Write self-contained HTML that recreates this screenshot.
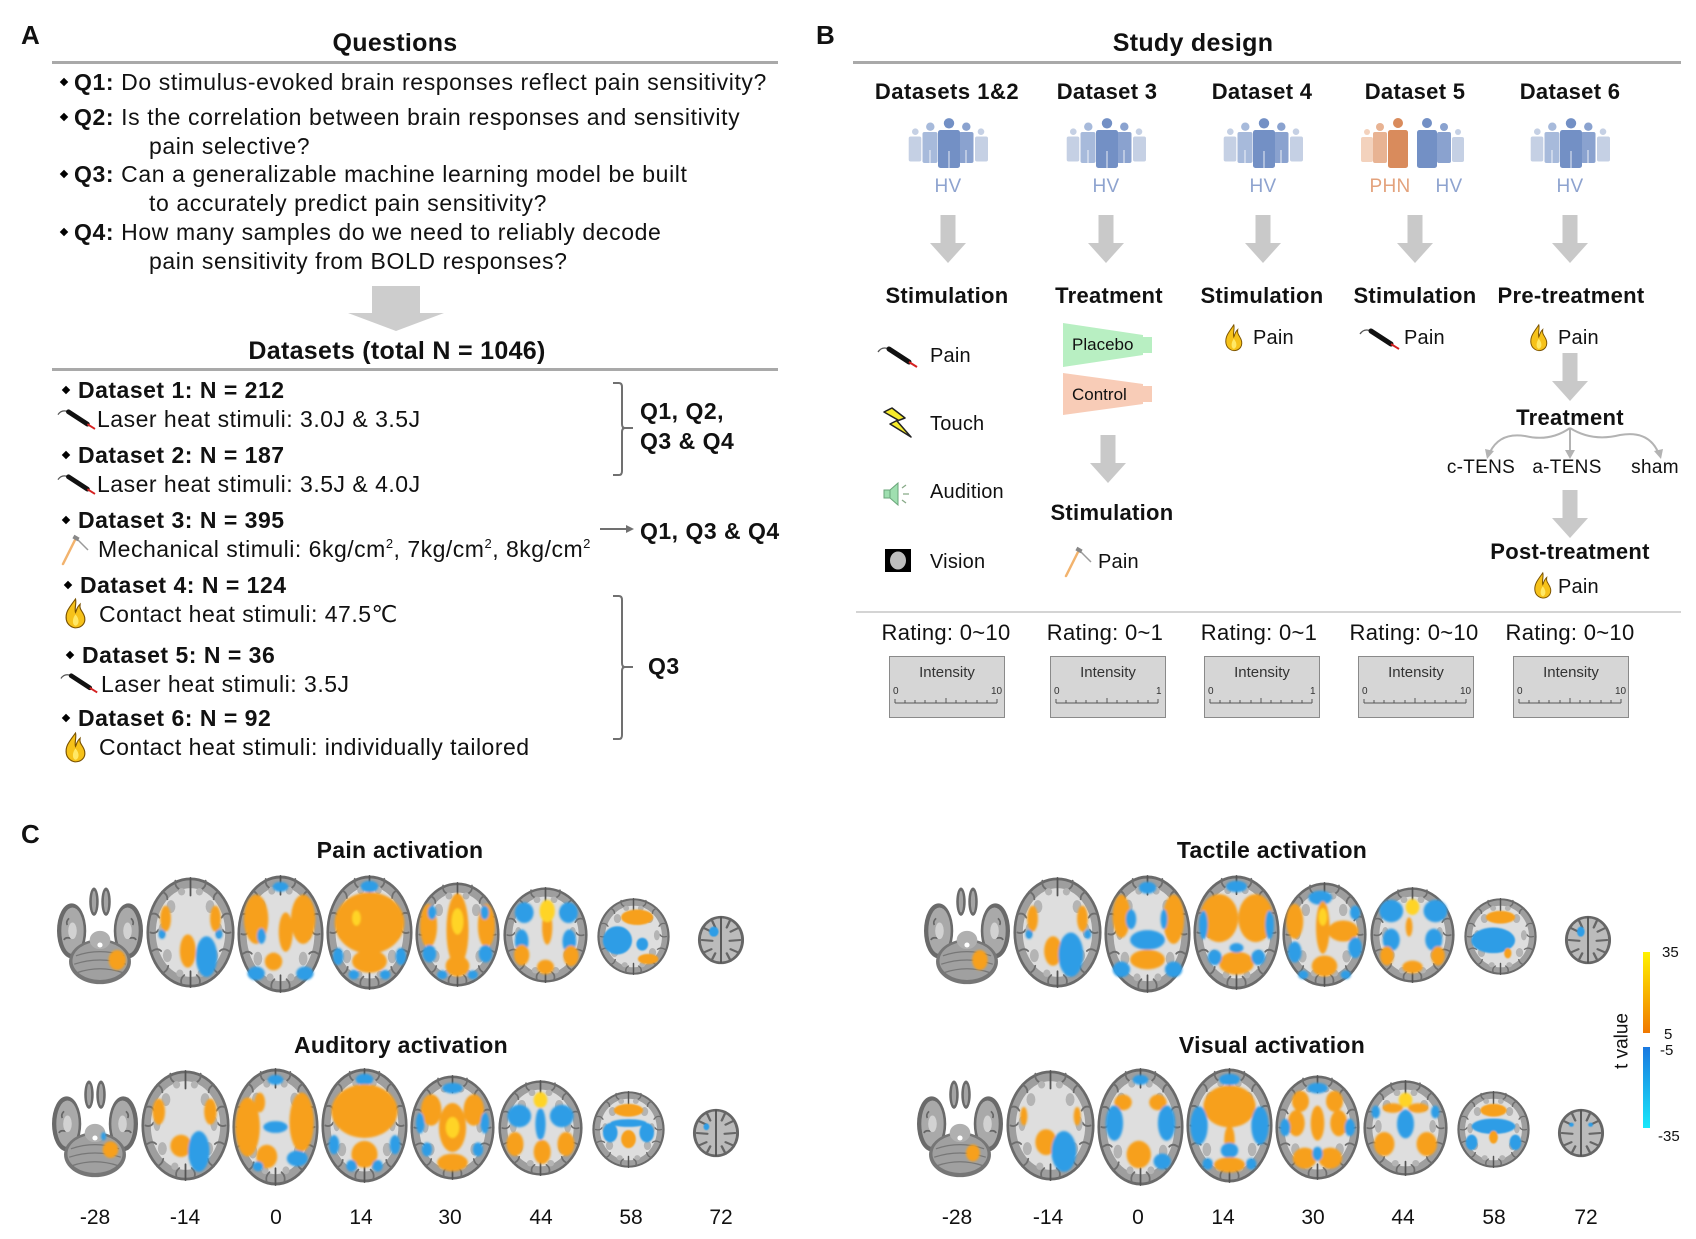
<!DOCTYPE html>
<html><head><meta charset="utf-8">
<style>
html,body{margin:0;padding:0;background:#fff;}
#pg{position:relative;width:1696px;height:1239px;overflow:hidden;background:#fff;}
.t{position:absolute;white-space:nowrap;line-height:1;font-family:"Liberation Sans","DejaVu Sans","Noto Sans CJK SC",sans-serif;color:#111;}
.b{font-weight:bold;}
.c{transform:translateX(-50%);}
.s23{font-size:23px;letter-spacing:0.5px;}
.q23{font-size:23px;letter-spacing:0.6px;}
.s25{font-size:25px;letter-spacing:0.3px;font-weight:bold;}
.s22{font-size:22px;letter-spacing:0.3px;}
.s20{font-size:20px;letter-spacing:0.2px;}
.s19{font-size:19px;letter-spacing:0.3px;}
.s21{font-size:21px;}
.d{position:absolute;width:6px;height:6px;background:#000;transform:rotate(45deg);}
sup{font-size:13px;vertical-align:9px;line-height:0;}
.box{position:absolute;top:656px;width:114px;height:60px;background:#d6d6d6;border:1px solid #8a8a8a;}
.o{fill:#f7a01a;} .y{fill:#ffd425;} .u{fill:#2f9de6;}
</style></head><body><div id="pg">
<div class="box" style="left:889px"></div>
<div class="box" style="left:1050px"></div>
<div class="box" style="left:1204px"></div>
<div class="box" style="left:1358px"></div>
<div class="box" style="left:1513px"></div>
<svg width="1696" height="1239" style="position:absolute;left:0;top:0">
<defs>
<filter id="bl" x="-10%" y="-10%" width="120%" height="120%"><feGaussianBlur stdDeviation="1.2"/></filter>
<linearGradient id="gor" x1="0" y1="0" x2="0" y2="1"><stop offset="0" stop-color="#fff200"/><stop offset="1" stop-color="#f07800"/></linearGradient>
<linearGradient id="gbl" x1="0" y1="0" x2="0" y2="1"><stop offset="0" stop-color="#1a78e0"/><stop offset="1" stop-color="#18e8fa"/></linearGradient>
<g id="ax">
<ellipse cx="50" cy="60" rx="49.5" ry="59.5" fill="#6a6a6a"/>
<ellipse cx="50" cy="60" rx="46.5" ry="56.5" fill="#9e9e9e"/>
<ellipse cx="50" cy="60" rx="39" ry="48" fill="#dedede"/>
<g stroke="#6e6e6e" stroke-width="2" fill="none" stroke-linecap="round">
<path d="M6 40 Q12 38 15 44 M5 60 Q11 62 14 57 M7 80 Q13 76 17 80 M94 40 Q88 38 85 44 M95 60 Q89 62 86 57 M93 80 Q87 76 83 80 M18 16 Q24 18 24 24 M82 16 Q76 18 76 24 M33 4 Q32 10 37 13 M67 4 Q68 10 63 13 M18 104 Q24 102 25 96 M82 104 Q76 102 75 96 M40 116 Q38 110 43 106 M60 116 Q62 110 57 106"/>
<path d="M50 1 V20 M50 102 V119" stroke="#555"/>
</g>
<g fill="#b4b4b4"><ellipse cx="28" cy="32" rx="5" ry="7"/><ellipse cx="72" cy="32" rx="5" ry="7"/><ellipse cx="24" cy="85" rx="5" ry="7"/><ellipse cx="76" cy="85" rx="5" ry="7"/><ellipse cx="18" cy="58" rx="4" ry="8"/><ellipse cx="82" cy="58" rx="4" ry="8"/><ellipse cx="40" cy="16" rx="4" ry="4"/><ellipse cx="60" cy="16" rx="4" ry="4"/><ellipse cx="38" cy="104" rx="4" ry="4"/><ellipse cx="62" cy="104" rx="4" ry="4"/></g>
</g>
<g id="b28">
<ellipse cx="43" cy="20" rx="5.5" ry="17" fill="#6a6a6a"/><ellipse cx="57" cy="20" rx="5.5" ry="17" fill="#6a6a6a"/>
<ellipse cx="43" cy="20" rx="2.5" ry="13" fill="#a4a4a4"/><ellipse cx="57" cy="20" rx="2.5" ry="13" fill="#a4a4a4"/>
<ellipse cx="17" cy="55" rx="17" ry="33" fill="#6a6a6a"/><ellipse cx="18" cy="55" rx="13" ry="28" fill="#a9a9a9"/>
<ellipse cx="83" cy="55" rx="17" ry="33" fill="#6a6a6a"/><ellipse cx="82" cy="55" rx="13" ry="28" fill="#a9a9a9"/>
<ellipse cx="50" cy="92" rx="36" ry="27" fill="#767676"/><ellipse cx="50" cy="91" rx="32" ry="23" fill="#a0a0a0"/>
<path d="M22 85 Q50 75 78 85 M20 95 Q50 85 80 95 M24 105 Q50 96 76 105" stroke="#777" stroke-width="1.5" fill="none"/>
<ellipse cx="50" cy="66" rx="12" ry="11" fill="#b0b0b0"/><circle cx="50" cy="72" r="3" fill="#fff"/>
<path d="M14 40 Q10 44 12 48 M16 64 Q10 62 8 66 M86 40 Q90 44 88 48 M84 64 Q90 62 92 66" stroke="#666" stroke-width="2" fill="none"/>
<ellipse cx="18" cy="55" rx="5" ry="10" fill="#d2d2d2"/><ellipse cx="82" cy="55" rx="5" ry="10" fill="#d2d2d2"/>
</g>
<g id="b72">
<ellipse cx="50" cy="60" rx="48" ry="58" fill="#666"/><ellipse cx="50" cy="60" rx="42" ry="52" fill="#bbb"/>
<path d="M50 4 V116" stroke="#555" stroke-width="4"/>
<path d="M12 30 L30 40 M10 60 L32 62 M14 90 L30 82 M88 30 L70 40 M90 60 L68 62 M86 90 L70 82 M30 10 L38 30 M70 10 L62 30 M30 110 L38 92 M70 110 L62 92" stroke="#666" stroke-width="5" stroke-linecap="round"/>
</g>
<g id="arr"><rect x="-7.5" y="0" width="15" height="28" fill="#c9c9c9"/><polygon points="-18,28 18,28 0,48" fill="#c9c9c9"/></g>
<g id="hv">
<circle cx="7.3" cy="13.7" r="3.3" fill="#c5d0e4"/><rect x="0.7" y="18.5" width="12.6" height="25" rx="2" fill="#c5d0e4"/>
<circle cx="73" cy="13.7" r="3.3" fill="#c5d0e4"/><rect x="67" y="18.5" width="13" height="25" rx="2" fill="#c5d0e4"/>
<circle cx="22.3" cy="8.7" r="4.2" fill="#a7badb"/><rect x="14.5" y="14" width="15" height="31" rx="2" fill="#a7badb"/>
<circle cx="58.3" cy="8.7" r="4.2" fill="#8aa2cf"/><rect x="51" y="14" width="14.5" height="31" rx="2" fill="#8aa2cf"/>
<circle cx="41" cy="5.3" r="5.2" fill="#7390c5"/><rect x="30" y="12" width="22" height="38" rx="2.5" fill="#7390c5"/>
<path d="M41 33 V50 M22 32 V45 M58 32 V45" stroke="#fff" stroke-width="1.2" opacity="0.7"/>
</g>
<g id="laser"><path d="M1 7 Q5 1 12 4" stroke="#555" stroke-width="1.3" fill="none"/><path d="M12 4 L32 17" stroke="#111" stroke-width="5" stroke-linecap="round"/><path d="M32 17 L40 22" stroke="#d42020" stroke-width="2"/></g>
<g id="flame"><path d="M10 1 C4 10 1 14 2 21 C3 27 8 29 10 29 C14 29 19 26 18 19 C17 13 13 12 14 6 C11 9 11 12 10 14 C9 10 11 5 10 1 Z" fill="#f6c21a" stroke="#7a5200" stroke-width="1"/><path d="M10 16 C7 20 7 26 10 27 C13 26 14 21 10 16 Z" fill="#ffe866"/></g>
<g id="ham"><path d="M16 2 L3 28" stroke="#f2b36e" stroke-width="2.5" stroke-linecap="round"/><path d="M16 2 L28 14" stroke="#9a9a9a" stroke-width="1.5"/><rect x="13" y="0" width="6" height="4" fill="#888" transform="rotate(30 16 2)"/></g>
</defs>

<!-- panel A lines and arrows -->
<rect x="52" y="61" width="726" height="3" fill="#a9a9a9"/>
<rect x="52" y="368" width="726" height="3" fill="#a9a9a9"/>
<path d="M372 286 H420 V313 H444 L396 331 L348 313 H372 Z" fill="#cdcdcd"/>
<g stroke="#707070" stroke-width="2" fill="none">
<path d="M613 383 H619 Q622 383 622 387 V424 Q622 428 625 428 H633 M625 428 Q622 428 622 432 V471 Q622 475 619 475 H613"/>
<path d="M613 596 H619 Q622 596 622 600 V663 Q622 667 625 667 H633 M625 667 Q622 667 622 671 V735 Q622 739 619 739 H613"/>
<path d="M600 529 H627"/>
</g>
<polygon points="626,525 634,529 626,533" fill="#707070"/>
<use href="#laser" transform="translate(57,408) scale(0.95)"/>
<use href="#laser" transform="translate(57,473) scale(0.95)"/>
<use href="#laser" transform="translate(60,672) scale(0.93)"/>
<use href="#ham" transform="translate(60,536) scale(1)"/>
<use href="#flame" transform="translate(64,598) scale(1.15,1.03)"/>
<use href="#flame" transform="translate(64,732) scale(1.15,1.03)"/>

<!-- panel B -->
<rect x="853" y="61" width="828" height="3" fill="#a9a9a9"/>
<rect x="856" y="611" width="825" height="2" fill="#d4d4d4"/>
<use href="#hv" x="908" y="118"/>
<use href="#hv" x="1066" y="118"/>
<use href="#hv" x="1223" y="118"/>
<use href="#hv" x="1530" y="118"/>
<g transform="translate(1361,118)">
<circle cx="6" cy="14" r="3" fill="#f3d2bd"/><rect x="0" y="19" width="12" height="25" rx="2" fill="#f3d2bd"/>
<circle cx="19" cy="9" r="4" fill="#e8b393"/><rect x="12" y="14" width="14" height="31" rx="2" fill="#e8b393"/>
<circle cx="37" cy="5" r="5" fill="#d98b5c"/><rect x="27" y="12" width="20" height="38" rx="2.5" fill="#d98b5c"/>
<circle cx="97" cy="14" r="3" fill="#c5d0e4"/><rect x="91" y="19" width="12" height="25" rx="2" fill="#c5d0e4"/>
<circle cx="83" cy="9" r="4" fill="#8aa2cf"/><rect x="76" y="14" width="14" height="31" rx="2" fill="#8aa2cf"/>
<circle cx="66" cy="5" r="5" fill="#7390c5"/><rect x="56" y="12" width="20" height="38" rx="2.5" fill="#7390c5"/>
</g>
<use href="#arr" x="948" y="215"/>
<use href="#arr" x="1106" y="215"/>
<use href="#arr" x="1263" y="215"/>
<use href="#arr" x="1415" y="215"/>
<use href="#arr" x="1570" y="215"/>
<use href="#arr" x="1108" y="435"/>
<use href="#arr" x="1570" y="353"/>
<use href="#arr" x="1570" y="490"/>
<use href="#laser" transform="translate(877,345)"/>
<polygon points="892,408 905,418 897,421 911,437 890,424 898,420 884,412" fill="#f7ec2a" stroke="#222" stroke-width="1.5" stroke-linejoin="round"/>
<g transform="translate(883,482)"><rect x="1" y="8" width="6" height="8" fill="#9fdfb0" stroke="#6aa67a"/><polygon points="7,8 15,1 15,23 7,16" fill="#9fdfb0" stroke="#6aa67a"/><path d="M19 6 L23 3 M20 12 H26 M19 18 L23 21" stroke="#8a8" stroke-width="1.3"/></g>
<rect x="885" y="549" width="26" height="23" fill="#000"/><ellipse cx="898" cy="560.5" rx="8" ry="9" fill="#bdbdbd"/>
<polygon points="1063,323 1143,335 1143,337 1152,337 1152,353 1143,353 1143,355 1063,367" fill="#b8efc2"/>
<polygon points="1063,373 1143,384 1143,386 1152,386 1152,402 1143,402 1143,404 1063,415" fill="#f8ccb7"/>
<use href="#ham" transform="translate(1063,548)"/>
<use href="#flame" transform="translate(1224,324) scale(0.98,0.92)"/>
<use href="#laser" transform="translate(1359,327)"/>
<use href="#flame" transform="translate(1529,324) scale(0.98,0.92)"/>
<use href="#flame" transform="translate(1533,572) scale(0.98,0.9)"/>
<g stroke="#b3b3b3" stroke-width="2" fill="none">
<path d="M1570 428 Q1550 442 1525 436 Q1500 432 1490 452"/>
<path d="M1570 428 Q1592 442 1620 435 Q1648 430 1658 452"/>
<path d="M1570 428 V452"/>
</g>
<g fill="#b3b3b3"><polygon points="1485,449 1494,451 1487,459"/><polygon points="1654,451 1663,449 1661,459"/><polygon points="1565,450 1575,450 1570,459"/></g>
<!-- intensity scales -->
<g stroke="#555" stroke-width="1" fill="none">
<path d="M895 703 H997 M895 699 V703 M905 700 V703 M915 700 V703 M925 700 V703 M936 700 V703 M946 698 V703 M956 700 V703 M966 700 V703 M977 700 V703 M987 700 V703 M997 699 V703"/>
<path d="M1056 703 H1158 M1056 699 V703 M1066 700 V703 M1076 700 V703 M1086 700 V703 M1097 700 V703 M1107 698 V703 M1117 700 V703 M1127 700 V703 M1138 700 V703 M1148 700 V703 M1158 699 V703"/>
<path d="M1210 703 H1312 M1210 699 V703 M1220 700 V703 M1230 700 V703 M1240 700 V703 M1251 700 V703 M1261 698 V703 M1271 700 V703 M1281 700 V703 M1292 700 V703 M1302 700 V703 M1312 699 V703"/>
<path d="M1364 703 H1466 M1364 699 V703 M1374 700 V703 M1384 700 V703 M1394 700 V703 M1405 700 V703 M1415 698 V703 M1425 700 V703 M1435 700 V703 M1446 700 V703 M1456 700 V703 M1466 699 V703"/>
<path d="M1519 703 H1621 M1519 699 V703 M1529 700 V703 M1539 700 V703 M1549 700 V703 M1560 700 V703 M1570 698 V703 M1580 700 V703 M1590 700 V703 M1601 700 V703 M1611 700 V703 M1621 699 V703"/>
</g>

<!-- panel C brains -->
<!-- Pain row -->
<svg x="57" y="885" width="86" height="100" viewBox="0 0 100 120" preserveAspectRatio="none"><use href="#b28"/><g filter="url(#bl)"><ellipse class="o" cx="70" cy="90" rx="10" ry="12"/></g></svg>
<svg x="146" y="877" width="89" height="111" viewBox="0 0 100 120" preserveAspectRatio="none"><use href="#ax"/><g filter="url(#bl)"><ellipse class="o" cx="22" cy="45" rx="6" ry="14"/><ellipse class="o" cx="78" cy="45" rx="6" ry="14"/><ellipse class="u" cx="18" cy="62" rx="4" ry="5"/><ellipse class="u" cx="82" cy="62" rx="4" ry="5"/><ellipse class="o" cx="47" cy="80" rx="9" ry="18"/><ellipse class="u" cx="68" cy="86" rx="12" ry="22"/></g></svg>
<svg x="237" y="875" width="87" height="118" viewBox="0 0 100 120" preserveAspectRatio="none"><use href="#ax"/><g filter="url(#bl)"><ellipse class="u" cx="50" cy="12" rx="9" ry="5"/><ellipse class="o" cx="22" cy="45" rx="14" ry="25"/><ellipse class="o" cx="76" cy="45" rx="14" ry="25"/><ellipse class="u" cx="28" cy="62" rx="5" ry="8"/><ellipse class="o" cx="56" cy="58" rx="8" ry="20"/><ellipse class="o" cx="42" cy="88" rx="10" ry="9"/><ellipse class="u" cx="22" cy="100" rx="10" ry="7"/><ellipse class="u" cx="78" cy="100" rx="10" ry="7"/></g></svg>
<svg x="326" y="875" width="87" height="115" viewBox="0 0 100 120" preserveAspectRatio="none"><use href="#ax"/><g filter="url(#bl)"><ellipse class="u" cx="50" cy="12" rx="10" ry="6"/><ellipse class="o" cx="50" cy="50" rx="40" ry="32"/><ellipse class="y" cx="35" cy="45" rx="5" ry="8"/><ellipse class="o" cx="50" cy="90" rx="20" ry="12"/><ellipse class="u" cx="14" cy="85" rx="6" ry="9"/><ellipse class="u" cx="86" cy="85" rx="6" ry="9"/><ellipse class="u" cx="32" cy="104" rx="6" ry="5"/><ellipse class="u" cx="68" cy="104" rx="6" ry="5"/></g></svg>
<svg x="415" y="882" width="85" height="105" viewBox="0 0 100 120" preserveAspectRatio="none"><use href="#ax"/><g filter="url(#bl)"><ellipse class="o" cx="50" cy="55" rx="13" ry="42"/><ellipse class="y" cx="50" cy="45" rx="7" ry="15"/><ellipse class="o" cx="16" cy="50" rx="10" ry="25"/><ellipse class="o" cx="84" cy="50" rx="10" ry="25"/><ellipse class="u" cx="20" cy="35" rx="5" ry="8"/><ellipse class="u" cx="82" cy="35" rx="5" ry="8"/><ellipse class="u" cx="17" cy="82" rx="8" ry="10"/><ellipse class="u" cx="83" cy="82" rx="8" ry="10"/><ellipse class="o" cx="50" cy="96" rx="14" ry="12"/><ellipse class="u" cx="32" cy="106" rx="6" ry="5"/><ellipse class="u" cx="68" cy="106" rx="6" ry="5"/></g></svg>
<svg x="503" y="887" width="85" height="96" viewBox="0 0 100 120" preserveAspectRatio="none"><use href="#ax"/><g filter="url(#bl)"><ellipse class="u" cx="25" cy="32" rx="11" ry="13"/><ellipse class="u" cx="77" cy="32" rx="11" ry="13"/><ellipse class="u" cx="22" cy="68" rx="8" ry="15"/><ellipse class="u" cx="78" cy="68" rx="8" ry="15"/><ellipse class="o" cx="52" cy="50" rx="6" ry="22"/><ellipse class="y" cx="52" cy="30" rx="9" ry="14"/><ellipse class="o" cx="22" cy="85" rx="9" ry="13"/><ellipse class="o" cx="80" cy="86" rx="9" ry="13"/><ellipse class="o" cx="50" cy="100" rx="10" ry="9"/></g></svg>
<svg x="597" y="898" width="73" height="77" viewBox="0 0 100 120" preserveAspectRatio="none"><use href="#ax"/><g filter="url(#bl)"><ellipse class="o" cx="55" cy="30" rx="22" ry="12"/><ellipse class="u" cx="28" cy="66" rx="20" ry="22"/><ellipse class="u" cx="62" cy="72" rx="8" ry="10"/><ellipse class="o" cx="70" cy="95" rx="14" ry="8"/></g></svg>
<svg x="697" y="915" width="48" height="50" viewBox="0 0 100 120" preserveAspectRatio="none"><use href="#b72"/><g filter="url(#bl)"><ellipse class="u" cx="35" cy="40" rx="10" ry="12"/></g></svg>

<!-- Tactile row -->
<svg x="924" y="885" width="86" height="100" viewBox="0 0 100 120" preserveAspectRatio="none"><use href="#b28"/><g filter="url(#bl)"><ellipse class="o" cx="65" cy="90" rx="9" ry="12"/></g></svg>
<svg x="1013" y="877" width="89" height="111" viewBox="0 0 100 120" preserveAspectRatio="none"><use href="#ax"/><g filter="url(#bl)"><ellipse class="o" cx="22" cy="45" rx="6" ry="14"/><ellipse class="o" cx="78" cy="45" rx="6" ry="14"/><ellipse class="u" cx="18" cy="62" rx="4" ry="5"/><ellipse class="u" cx="84" cy="62" rx="4" ry="5"/><ellipse class="o" cx="45" cy="80" rx="10" ry="16"/><ellipse class="u" cx="65" cy="84" rx="14" ry="24"/></g></svg>
<svg x="1104" y="875" width="87" height="118" viewBox="0 0 100 120" preserveAspectRatio="none"><use href="#ax"/><g filter="url(#bl)"><ellipse class="u" cx="50" cy="13" rx="10" ry="6"/><ellipse class="o" cx="20" cy="42" rx="10" ry="22"/><ellipse class="o" cx="80" cy="45" rx="12" ry="25"/><ellipse class="u" cx="31" cy="45" rx="6" ry="10"/><ellipse class="u" cx="69" cy="45" rx="4" ry="10"/><ellipse class="u" cx="50" cy="66" rx="20" ry="10"/><ellipse class="o" cx="50" cy="86" rx="20" ry="10"/><ellipse class="u" cx="20" cy="96" rx="10" ry="8"/><ellipse class="u" cx="80" cy="96" rx="10" ry="8"/></g></svg>
<svg x="1193" y="875" width="87" height="115" viewBox="0 0 100 120" preserveAspectRatio="none"><use href="#ax"/><g filter="url(#bl)"><ellipse class="u" cx="50" cy="12" rx="12" ry="6"/><ellipse class="o" cx="30" cy="45" rx="22" ry="25"/><ellipse class="o" cx="72" cy="45" rx="20" ry="25"/><ellipse class="u" cx="12" cy="52" rx="5" ry="15"/><ellipse class="u" cx="88" cy="52" rx="5" ry="15"/><ellipse class="o" cx="50" cy="92" rx="20" ry="12"/><ellipse class="u" cx="25" cy="86" rx="8" ry="8"/><ellipse class="u" cx="75" cy="86" rx="8" ry="8"/><ellipse class="u" cx="50" cy="76" rx="8" ry="5"/></g></svg>
<svg x="1282" y="882" width="85" height="105" viewBox="0 0 100 120" preserveAspectRatio="none"><use href="#ax"/><g filter="url(#bl)"><ellipse class="u" cx="45" cy="18" rx="14" ry="8"/><ellipse class="o" cx="48" cy="52" rx="8" ry="30"/><ellipse class="y" cx="48" cy="40" rx="5" ry="10"/><ellipse class="o" cx="15" cy="45" rx="10" ry="20"/><ellipse class="o" cx="72" cy="56" rx="18" ry="12"/><ellipse class="u" cx="15" cy="80" rx="8" ry="12"/><ellipse class="u" cx="86" cy="75" rx="8" ry="12"/><ellipse class="u" cx="86" cy="35" rx="6" ry="8"/><ellipse class="o" cx="50" cy="96" rx="15" ry="12"/><ellipse class="u" cx="25" cy="106" rx="6" ry="5"/><ellipse class="u" cx="75" cy="106" rx="6" ry="5"/></g></svg>
<svg x="1370" y="887" width="85" height="96" viewBox="0 0 100 120" preserveAspectRatio="none"><use href="#ax"/><g filter="url(#bl)"><ellipse class="u" cx="25" cy="30" rx="14" ry="14"/><ellipse class="u" cx="77" cy="30" rx="14" ry="14"/><ellipse class="u" cx="25" cy="66" rx="10" ry="14"/><ellipse class="u" cx="75" cy="66" rx="10" ry="14"/><ellipse class="y" cx="50" cy="25" rx="8" ry="10"/><ellipse class="o" cx="46" cy="50" rx="4" ry="12"/><ellipse class="o" cx="20" cy="86" rx="8" ry="12"/><ellipse class="o" cx="80" cy="86" rx="8" ry="12"/><ellipse class="o" cx="50" cy="100" rx="12" ry="8"/></g></svg>
<svg x="1464" y="898" width="73" height="77" viewBox="0 0 100 120" preserveAspectRatio="none"><use href="#ax"/><g filter="url(#bl)"><ellipse class="o" cx="50" cy="30" rx="20" ry="10"/><ellipse class="u" cx="40" cy="66" rx="30" ry="20"/><ellipse class="o" cx="60" cy="86" rx="5" ry="8"/></g></svg>
<svg x="1564" y="915" width="48" height="50" viewBox="0 0 100 120" preserveAspectRatio="none"><use href="#b72"/><g filter="url(#bl)"><ellipse class="u" cx="35" cy="40" rx="8" ry="12"/></g></svg>

<!-- Auditory row -->
<svg x="52" y="1078" width="86" height="100" viewBox="0 0 100 120" preserveAspectRatio="none"><use href="#b28"/><g filter="url(#bl)"><ellipse class="o" cx="68" cy="86" rx="9" ry="10"/><ellipse class="u" cx="60" cy="70" rx="3" ry="5"/></g></svg>
<svg x="141" y="1070" width="89" height="111" viewBox="0 0 100 120" preserveAspectRatio="none"><use href="#ax"/><g filter="url(#bl)"><ellipse class="o" cx="20" cy="45" rx="7" ry="14"/><ellipse class="o" cx="78" cy="45" rx="7" ry="14"/><ellipse class="o" cx="45" cy="82" rx="12" ry="12"/><ellipse class="u" cx="65" cy="88" rx="12" ry="22"/></g></svg>
<svg x="232" y="1068" width="87" height="118" viewBox="0 0 100 120" preserveAspectRatio="none"><use href="#ax"/><g filter="url(#bl)"><ellipse class="u" cx="50" cy="12" rx="9" ry="5"/><ellipse class="o" cx="18" cy="60" rx="14" ry="30"/><ellipse class="o" cx="80" cy="55" rx="14" ry="30"/><ellipse class="o" cx="32" cy="35" rx="6" ry="10"/><ellipse class="u" cx="50" cy="60" rx="14" ry="6"/><ellipse class="o" cx="40" cy="90" rx="12" ry="12"/><ellipse class="u" cx="75" cy="92" rx="12" ry="8"/><ellipse class="u" cx="30" cy="100" rx="6" ry="5"/></g></svg>
<svg x="321" y="1068" width="87" height="115" viewBox="0 0 100 120" preserveAspectRatio="none"><use href="#ax"/><g filter="url(#bl)"><ellipse class="u" cx="50" cy="12" rx="10" ry="6"/><ellipse class="o" cx="50" cy="45" rx="38" ry="28"/><ellipse class="o" cx="50" cy="90" rx="15" ry="14"/><ellipse class="u" cx="15" cy="80" rx="6" ry="10"/><ellipse class="u" cx="85" cy="80" rx="6" ry="10"/><ellipse class="u" cx="35" cy="102" rx="6" ry="6"/><ellipse class="u" cx="65" cy="102" rx="6" ry="6"/></g></svg>
<svg x="410" y="1075" width="85" height="105" viewBox="0 0 100 120" preserveAspectRatio="none"><use href="#ax"/><g filter="url(#bl)"><ellipse class="u" cx="50" cy="15" rx="12" ry="6"/><ellipse class="o" cx="25" cy="40" rx="12" ry="18"/><ellipse class="o" cx="75" cy="40" rx="12" ry="18"/><ellipse class="o" cx="50" cy="60" rx="16" ry="28"/><ellipse class="y" cx="50" cy="60" rx="8" ry="12"/><ellipse class="u" cx="12" cy="55" rx="5" ry="12"/><ellipse class="u" cx="88" cy="55" rx="5" ry="12"/><ellipse class="o" cx="50" cy="100" rx="18" ry="10"/><ellipse class="u" cx="20" cy="85" rx="6" ry="8"/><ellipse class="u" cx="80" cy="85" rx="6" ry="8"/></g></svg>
<svg x="498" y="1080" width="85" height="96" viewBox="0 0 100 120" preserveAspectRatio="none"><use href="#ax"/><g filter="url(#bl)"><ellipse class="y" cx="50" cy="25" rx="8" ry="10"/><ellipse class="u" cx="25" cy="45" rx="14" ry="14"/><ellipse class="u" cx="75" cy="45" rx="14" ry="14"/><ellipse class="u" cx="50" cy="55" rx="6" ry="20"/><ellipse class="o" cx="20" cy="80" rx="10" ry="15"/><ellipse class="o" cx="80" cy="80" rx="10" ry="15"/><ellipse class="o" cx="52" cy="90" rx="10" ry="15"/></g></svg>
<svg x="592" y="1091" width="73" height="77" viewBox="0 0 100 120" preserveAspectRatio="none"><use href="#ax"/><g filter="url(#bl)"><ellipse class="o" cx="50" cy="30" rx="20" ry="10"/><ellipse class="u" cx="25" cy="65" rx="10" ry="15"/><ellipse class="u" cx="75" cy="65" rx="10" ry="15"/><ellipse class="u" cx="50" cy="50" rx="25" ry="6"/><ellipse class="o" cx="50" cy="75" rx="10" ry="14"/></g></svg>
<svg x="692" y="1108" width="48" height="50" viewBox="0 0 100 120" preserveAspectRatio="none"><use href="#b72"/><g filter="url(#bl)"><ellipse class="u" cx="30" cy="45" rx="6" ry="8"/></g></svg>

<!-- Visual row -->
<svg x="917" y="1078" width="86" height="100" viewBox="0 0 100 120" preserveAspectRatio="none"><use href="#b28"/><g filter="url(#bl)"><ellipse class="o" cx="65" cy="90" rx="8" ry="10"/></g></svg>
<svg x="1006" y="1070" width="89" height="111" viewBox="0 0 100 120" preserveAspectRatio="none"><use href="#ax"/><g filter="url(#bl)"><ellipse class="o" cx="20" cy="50" rx="4" ry="10"/><ellipse class="o" cx="80" cy="50" rx="4" ry="10"/><ellipse class="o" cx="45" cy="78" rx="12" ry="14"/><ellipse class="u" cx="65" cy="88" rx="14" ry="22"/></g></svg>
<svg x="1097" y="1068" width="87" height="118" viewBox="0 0 100 120" preserveAspectRatio="none"><use href="#ax"/><g filter="url(#bl)"><ellipse class="u" cx="50" cy="12" rx="9" ry="5"/><ellipse class="o" cx="30" cy="35" rx="10" ry="8"/><ellipse class="o" cx="70" cy="35" rx="10" ry="8"/><ellipse class="u" cx="20" cy="56" rx="10" ry="18"/><ellipse class="u" cx="80" cy="56" rx="10" ry="18"/><ellipse class="o" cx="48" cy="88" rx="14" ry="14"/><ellipse class="u" cx="75" cy="95" rx="10" ry="8"/></g></svg>
<svg x="1186" y="1068" width="87" height="115" viewBox="0 0 100 120" preserveAspectRatio="none"><use href="#ax"/><g filter="url(#bl)"><ellipse class="u" cx="50" cy="12" rx="12" ry="6"/><ellipse class="o" cx="50" cy="40" rx="30" ry="22"/><ellipse class="u" cx="15" cy="60" rx="10" ry="20"/><ellipse class="u" cx="85" cy="60" rx="10" ry="20"/><ellipse class="o" cx="50" cy="75" rx="6" ry="15"/><ellipse class="u" cx="50" cy="86" rx="10" ry="8"/><ellipse class="o" cx="50" cy="101" rx="18" ry="8"/><ellipse class="u" cx="25" cy="100" rx="6" ry="6"/><ellipse class="u" cx="75" cy="100" rx="6" ry="6"/></g></svg>
<svg x="1275" y="1075" width="85" height="105" viewBox="0 0 100 120" preserveAspectRatio="none"><use href="#ax"/><g filter="url(#bl)"><ellipse class="u" cx="50" cy="15" rx="12" ry="6"/><ellipse class="o" cx="30" cy="30" rx="10" ry="12"/><ellipse class="o" cx="70" cy="30" rx="10" ry="12"/><ellipse class="o" cx="50" cy="55" rx="8" ry="20"/><ellipse class="o" cx="25" cy="55" rx="10" ry="15"/><ellipse class="o" cx="75" cy="55" rx="10" ry="15"/><ellipse class="u" cx="12" cy="60" rx="6" ry="10"/><ellipse class="u" cx="88" cy="60" rx="6" ry="10"/><ellipse class="o" cx="35" cy="95" rx="14" ry="12"/><ellipse class="o" cx="65" cy="95" rx="14" ry="12"/><ellipse class="u" cx="50" cy="90" rx="6" ry="8"/></g></svg>
<svg x="1363" y="1080" width="85" height="96" viewBox="0 0 100 120" preserveAspectRatio="none"><use href="#ax"/><g filter="url(#bl)"><ellipse class="y" cx="50" cy="25" rx="8" ry="9"/><ellipse class="o" cx="35" cy="35" rx="12" ry="6"/><ellipse class="o" cx="65" cy="35" rx="12" ry="6"/><ellipse class="u" cx="50" cy="55" rx="10" ry="18"/><ellipse class="o" cx="25" cy="80" rx="12" ry="15"/><ellipse class="o" cx="75" cy="80" rx="12" ry="15"/><ellipse class="u" cx="15" cy="40" rx="5" ry="8"/><ellipse class="u" cx="85" cy="40" rx="5" ry="8"/></g></svg>
<svg x="1457" y="1091" width="73" height="77" viewBox="0 0 100 120" preserveAspectRatio="none"><use href="#ax"/><g filter="url(#bl)"><ellipse class="o" cx="50" cy="30" rx="18" ry="10"/><ellipse class="u" cx="50" cy="55" rx="30" ry="12"/><ellipse class="o" cx="50" cy="72" rx="6" ry="10"/><ellipse class="u" cx="20" cy="80" rx="8" ry="12"/><ellipse class="u" cx="80" cy="80" rx="8" ry="12"/></g></svg>
<svg x="1557" y="1108" width="48" height="50" viewBox="0 0 100 120" preserveAspectRatio="none"><use href="#b72"/><g filter="url(#bl)"><ellipse class="u" cx="30" cy="40" rx="5" ry="5"/><ellipse class="u" cx="70" cy="40" rx="5" ry="5"/></g></svg>

<!-- colorbar -->
<rect x="1643" y="952" width="7" height="81" fill="url(#gor)"/>
<rect x="1643" y="1047" width="7" height="81" fill="url(#gbl)"/>
</svg>

<!-- Panel A text -->
<div class="t b" style="font-size:26px;left:21px;top:22px">A</div>
<div class="t c s25" style="left:395px;top:31px">Questions</div>
<div class="d" style="left:61px;top:79px"></div>
<div class="t q23" style="left:74px;top:71px"><b>Q1:</b> Do stimulus-evoked brain responses reflect pain sensitivity?</div>
<div class="d" style="left:61px;top:114px"></div>
<div class="t q23" style="left:74px;top:106px"><b>Q2:</b> Is the correlation between brain responses and sensitivity</div>
<div class="t q23" style="left:149px;top:135px">pain selective?</div>
<div class="d" style="left:61px;top:171px"></div>
<div class="t q23" style="left:74px;top:163px"><b>Q3:</b> Can a generalizable machine learning model be built</div>
<div class="t q23" style="left:149px;top:192px">to accurately predict pain sensitivity?</div>
<div class="d" style="left:61px;top:229px"></div>
<div class="t q23" style="left:74px;top:221px"><b>Q4:</b> How many samples do we need to reliably decode</div>
<div class="t q23" style="left:149px;top:250px">pain sensitivity from BOLD responses?</div>
<div class="t c s25" style="left:397px;top:339px">Datasets (total N = 1046)</div>

<div class="d" style="left:63px;top:387px"></div>
<div class="t s23 b" style="left:78px;top:379px">Dataset 1: N = 212</div>
<div class="t s23" style="left:97px;top:408px">Laser heat stimuli: 3.0J &amp; 3.5J</div>
<div class="d" style="left:63px;top:452px"></div>
<div class="t s23 b" style="left:78px;top:444px">Dataset 2: N = 187</div>
<div class="t s23" style="left:97px;top:473px">Laser heat stimuli: 3.5J &amp; 4.0J</div>
<div class="d" style="left:63px;top:517px"></div>
<div class="t s23 b" style="left:78px;top:509px">Dataset 3: N = 395</div>
<div class="t s23" style="left:98px;top:538px">Mechanical stimuli: 6kg/cm<sup>2</sup>, 7kg/cm<sup>2</sup>, 8kg/cm<sup>2</sup></div>
<div class="d" style="left:65px;top:582px"></div>
<div class="t s23 b" style="left:80px;top:574px">Dataset 4: N = 124</div>
<div class="t s23" style="left:99px;top:603px">Contact heat stimuli: 47.5℃</div>
<div class="d" style="left:67px;top:652px"></div>
<div class="t s23 b" style="left:82px;top:644px">Dataset 5: N = 36</div>
<div class="t s23" style="left:101px;top:673px">Laser heat stimuli: 3.5J</div>
<div class="d" style="left:63px;top:715px"></div>
<div class="t s23 b" style="left:78px;top:707px">Dataset 6: N = 92</div>
<div class="t s23" style="left:99px;top:736px">Contact heat stimuli: individually tailored</div>
<div class="t s23 b" style="left:640px;top:400px">Q1, Q2,</div>
<div class="t s23 b" style="left:640px;top:430px">Q3 &amp; Q4</div>
<div class="t s23 b" style="left:640px;top:520px">Q1, Q3 &amp; Q4</div>
<div class="t s23 b" style="left:648px;top:655px">Q3</div>

<!-- Panel B text -->
<div class="t b" style="font-size:26px;left:816px;top:22px">B</div>
<div class="t c s25" style="left:1193px;top:31px">Study design</div>
<div class="t c s22 b" style="left:947px;top:81px;letter-spacing:0.5px">Datasets 1&amp;2</div>
<div class="t c s22 b" style="left:1107px;top:81px">Dataset 3</div>
<div class="t c s22 b" style="left:1262px;top:81px">Dataset 4</div>
<div class="t c s22 b" style="left:1415px;top:81px">Dataset 5</div>
<div class="t c s22 b" style="left:1570px;top:81px">Dataset 6</div>
<div class="t c s19" style="left:948px;top:177px;color:#8ea3cf">HV</div>
<div class="t c s19" style="left:1106px;top:177px;color:#8ea3cf">HV</div>
<div class="t c s19" style="left:1263px;top:177px;color:#8ea3cf">HV</div>
<div class="t c s19" style="left:1390px;top:177px;color:#e3a27c">PHN</div>
<div class="t c s19" style="left:1449px;top:177px;color:#8ea3cf">HV</div>
<div class="t c s19" style="left:1570px;top:177px;color:#8ea3cf">HV</div>
<div class="t c s22 b" style="left:947px;top:285px">Stimulation</div>
<div class="t c s22 b" style="left:1109px;top:285px">Treatment</div>
<div class="t c s22 b" style="left:1262px;top:285px">Stimulation</div>
<div class="t c s22 b" style="left:1415px;top:285px">Stimulation</div>
<div class="t c s22 b" style="left:1571px;top:285px">Pre-treatment</div>
<div class="t s20" style="left:930px;top:346px">Pain</div>
<div class="t s20" style="left:930px;top:414px">Touch</div>
<div class="t s20" style="left:930px;top:482px">Audition</div>
<div class="t s20" style="left:930px;top:552px">Vision</div>
<div class="t" style="font-size:17px;left:1072px;top:336px">Placebo</div>
<div class="t" style="font-size:17px;left:1072px;top:386px">Control</div>
<div class="t c s22 b" style="left:1112px;top:502px">Stimulation</div>
<div class="t s20" style="left:1098px;top:552px">Pain</div>
<div class="t s20" style="left:1253px;top:328px">Pain</div>
<div class="t s20" style="left:1404px;top:328px">Pain</div>
<div class="t s20" style="left:1558px;top:328px">Pain</div>
<div class="t c s22 b" style="left:1570px;top:407px">Treatment</div>
<div class="t c s19" style="left:1481px;top:458px">c-TENS</div>
<div class="t c s19" style="left:1567px;top:458px">a-TENS</div>
<div class="t c s19" style="left:1655px;top:458px">sham</div>
<div class="t c s22 b" style="left:1570px;top:541px">Post-treatment</div>
<div class="t s20" style="left:1558px;top:577px">Pain</div>
<div class="t c s22" style="left:946px;top:622px">Rating: 0~10</div>
<div class="t c s22" style="left:1105px;top:622px">Rating: 0~1</div>
<div class="t c s22" style="left:1259px;top:622px">Rating: 0~1</div>
<div class="t c s22" style="left:1414px;top:622px">Rating: 0~10</div>
<div class="t c s22" style="left:1570px;top:622px">Rating: 0~10</div>

<div class="t c" style="font-size:15px;left:947px;top:665px;color:#333">Intensity</div>
<div class="t c" style="font-size:15px;left:1108px;top:665px;color:#333">Intensity</div>
<div class="t c" style="font-size:15px;left:1262px;top:665px;color:#333">Intensity</div>
<div class="t c" style="font-size:15px;left:1416px;top:665px;color:#333">Intensity</div>
<div class="t c" style="font-size:15px;left:1571px;top:665px;color:#333">Intensity</div>
<div class="t" style="font-size:10px;left:893px;top:687px;color:#333">0</div>
<div class="t" style="font-size:10px;left:991px;top:687px;color:#333">10</div>
<div class="t" style="font-size:10px;left:1054px;top:687px;color:#333">0</div>
<div class="t" style="font-size:10px;left:1156px;top:687px;color:#333">1</div>
<div class="t" style="font-size:10px;left:1208px;top:687px;color:#333">0</div>
<div class="t" style="font-size:10px;left:1310px;top:687px;color:#333">1</div>
<div class="t" style="font-size:10px;left:1362px;top:687px;color:#333">0</div>
<div class="t" style="font-size:10px;left:1460px;top:687px;color:#333">10</div>
<div class="t" style="font-size:10px;left:1517px;top:687px;color:#333">0</div>
<div class="t" style="font-size:10px;left:1615px;top:687px;color:#333">10</div>

<!-- Panel C text -->
<div class="t b" style="font-size:26px;left:21px;top:821px">C</div>
<div class="t c b" style="font-size:23px;left:400px;top:839px;letter-spacing:0.3px">Pain activation</div>
<div class="t c b" style="font-size:23px;left:1272px;top:839px;letter-spacing:0.3px">Tactile activation</div>
<div class="t c b" style="font-size:23px;left:401px;top:1034px;letter-spacing:0.3px">Auditory activation</div>
<div class="t c b" style="font-size:23px;left:1272px;top:1034px;letter-spacing:0.3px">Visual activation</div>
<div class="t c s21" style="left:95px;top:1207px">-28</div>
<div class="t c s21" style="left:185px;top:1207px">-14</div>
<div class="t c s21" style="left:276px;top:1207px">0</div>
<div class="t c s21" style="left:361px;top:1207px">14</div>
<div class="t c s21" style="left:450px;top:1207px">30</div>
<div class="t c s21" style="left:541px;top:1207px">44</div>
<div class="t c s21" style="left:631px;top:1207px">58</div>
<div class="t c s21" style="left:721px;top:1207px">72</div>
<div class="t c s21" style="left:957px;top:1207px">-28</div>
<div class="t c s21" style="left:1048px;top:1207px">-14</div>
<div class="t c s21" style="left:1138px;top:1207px">0</div>
<div class="t c s21" style="left:1223px;top:1207px">14</div>
<div class="t c s21" style="left:1313px;top:1207px">30</div>
<div class="t c s21" style="left:1403px;top:1207px">44</div>
<div class="t c s21" style="left:1494px;top:1207px">58</div>
<div class="t c s21" style="left:1586px;top:1207px">72</div>
<div class="t" style="font-size:15px;left:1662px;top:945px">35</div>
<div class="t" style="font-size:15px;left:1664px;top:1027px">5</div>
<div class="t" style="font-size:15px;left:1660px;top:1043px">-5</div>
<div class="t" style="font-size:15px;left:1658px;top:1129px">-35</div>
<div class="t" style="font-size:19px;left:1622px;top:1041px;transform:translate(-50%,-50%) rotate(-90deg)">t value</div>
</div></body></html>
